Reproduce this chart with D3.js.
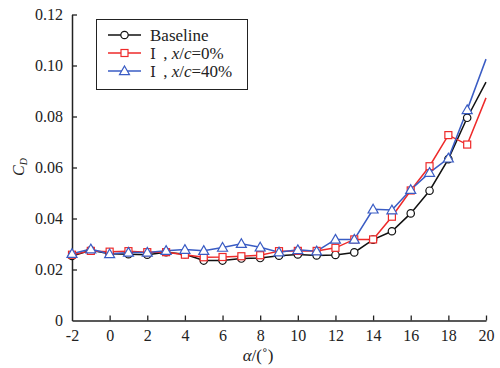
<!DOCTYPE html>
<html><head><meta charset="utf-8">
<script src="https://cdn.jsdelivr.net/npm/d3@7"></script>
<style>body{margin:0;background:#fff}svg{display:block}</style>
</head><body>
<script>
const alpha = [-2,-1,0,1,2,3,4,5,6,7,8,9,10,11,12,13,14,15,16,17,18,19,20];
const baseline = [0.0253,0.0275,0.0262,0.0260,0.0258,0.0268,0.0260,0.0235,0.0235,0.0243,0.0245,0.0254,0.0259,0.0255,0.0257,0.0267,0.0317,0.0350,0.0420,0.0509,0.0633,0.0795,0.0935];
const case0 = [0.0258,0.0273,0.0270,0.0272,0.0268,0.0268,0.0258,0.0248,0.0249,0.0252,0.0256,0.0272,0.0273,0.0273,0.0285,0.0318,0.0318,0.0407,0.0510,0.0605,0.0727,0.0690,0.0873];
const case40 = [0.0262,0.0280,0.0261,0.0267,0.0267,0.0274,0.0278,0.0274,0.0286,0.0301,0.0287,0.0268,0.0277,0.0272,0.0318,0.0318,0.0436,0.0433,0.0513,0.0580,0.0636,0.0826,0.1025];
const xTicks = [-2,0,2,4,6,8,10,12,14,16,18,20];
const yTicks = [0,0.02,0.04,0.06,0.08,0.10,0.12];
const seriesNames = ["Baseline","Ⅰ , x/c=0%","Ⅰ , x/c=40%"];
const colors = ["#111111","#ee2a2a","#3a5cc4"];
const markers = ["circle","square","triangle"];

const W=500,H=368;
const svg=d3.select("body").append("svg").attr("width",W).attr("height",H);
const x=d3.scaleLinear().domain([-2,20]).range([72,486]);
const y=d3.scaleLinear().domain([0,0.12]).range([320.5,14.5]);
const font="'Liberation Serif','Times New Roman',serif";

// axes
const gx=svg.append("g").attr("transform","translate(0,320.5)")
  .call(d3.axisBottom(x).tickValues(xTicks).tickSizeInner(-5).tickSizeOuter(0).tickPadding(9).tickFormat(d=>d));
const gy=svg.append("g").attr("transform","translate(72,0)")
  .call(d3.axisLeft(y).tickValues(yTicks).tickSizeInner(-5).tickSizeOuter(0).tickPadding(9)
  .tickFormat(d=>d===0?"0":d3.format(".2f")(d)));
[gx,gy].forEach(g=>{
  g.selectAll("path").attr("stroke","#222").attr("stroke-width",1.5);
  g.selectAll("line").attr("stroke","#222").attr("stroke-width",1.3);
  g.selectAll("text").attr("font-family",font).attr("font-size",16).attr("fill","#222");
});
gx.selectAll(".tick").filter(d=>d===-2).select("line").remove();
gy.selectAll(".tick").filter(d=>d===0).select("line").remove();

// axis labels
const yl=svg.append("text").attr("transform","translate(24,167) rotate(-90)")
  .attr("text-anchor","middle").attr("font-family",font).attr("font-size",16).attr("fill","#222");
yl.append("tspan").attr("font-style","italic").text("C");
yl.append("tspan").attr("font-style","italic").attr("font-size",10).attr("dy",3).text("D");
const xl=svg.append("text").attr("x",258).attr("y",361).attr("text-anchor","middle")
  .attr("font-family",font).attr("font-size",17).attr("fill","#222");
xl.append("tspan").attr("font-style","italic").text("α");
xl.append("tspan").text("/(˚)");

function drawMarker(g,type,cx,cy,color){
  if(type==="circle") g.append("circle").attr("cx",cx).attr("cy",cy).attr("r",3.7).attr("fill","#fff").attr("stroke",color).attr("stroke-width",1.2);
  else if(type==="square") g.append("rect").attr("x",cx-3.5).attr("y",cy-3.5).attr("width",7).attr("height",7).attr("fill","#fff").attr("stroke",color).attr("stroke-width",1.2);
  else g.append("path").attr("d",`M${cx},${cy-5}L${cx+5},${cy+3.7}L${cx-5},${cy+3.7}Z`).attr("fill","#fff").attr("stroke",color).attr("stroke-width",1.2);
}

const data=[baseline,case0,case40];
const line=d3.line().x((d,i)=>x(alpha[i])).y(d=>y(d));
data.forEach((s,k)=>{
  svg.append("path").datum(s).attr("d",line).attr("fill","none").attr("stroke",colors[k]).attr("stroke-width",1.5);
});
data.forEach((s,k)=>{
  const g=svg.append("g");
  s.forEach((v,i)=>{ if(alpha[i]<20) drawMarker(g,markers[k],x(alpha[i]),y(v),colors[k]); });
});

// legend
const lg=svg.append("g");
lg.append("rect").attr("x",96.5).attr("y",19.5).attr("width",151).attr("height",70).attr("fill","#fff").attr("stroke","#222").attr("stroke-width",1);
const rows=[35,53,71];
rows.forEach((ry,k)=>{
  lg.append("line").attr("x1",108).attr("x2",141).attr("y1",ry).attr("y2",ry).attr("stroke",colors[k]).attr("stroke-width",1.5);
  drawMarker(lg,markers[k],124.5,ry,colors[k]);
  const t=lg.append("text").attr("x",150).attr("y",ry+5.5).attr("font-family",font).attr("font-size",17).attr("fill","#222");
  if(k===0) t.text(seriesNames[0]);
  else {
    t.append("tspan").attr("font-family","'DejaVu Serif',"+font).attr("font-size",15).text("Ⅰ");
    t.append("tspan").attr("dx",3).text(" , ");
    t.append("tspan").attr("font-style","italic").text("x");
    t.append("tspan").text("/");
    t.append("tspan").attr("font-style","italic").text("c");
    t.append("tspan").text(k===1?"=0%":"=40%");
  }
});
</script>
</body></html>
